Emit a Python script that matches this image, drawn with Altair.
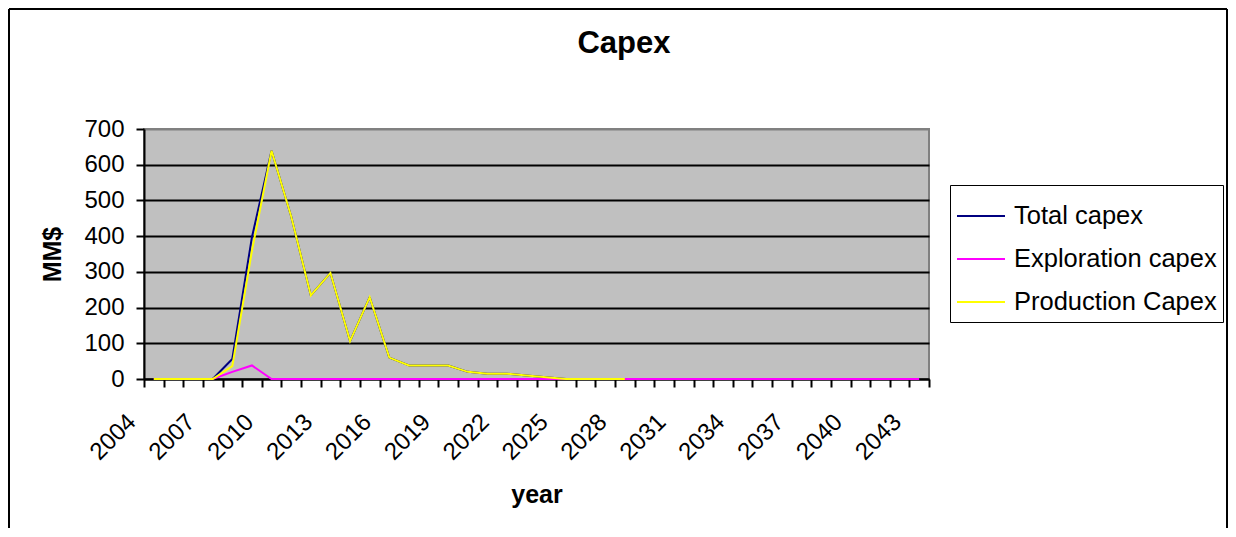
import altair as alt
import pandas as pd

years = list(range(2004, 2044))
production = [0, 0, 0, 0, 36, 359, 639, 455, 234, 297, 106, 229, 60, 38, 38, 38,
              20, 15, 15, 10, 5, 0, 0, 0, 0]
exploration = [0, 0, 0, 0, 20, 38] + [0] * 34
total = [(production[i] if i < len(production) else 0) + exploration[i] for i in range(len(years))]

series_names = ["Total capex", "Exploration capex", "Production Capex"]
series_colors = ["#000080", "#FF00FF", "#FFFF00"]
series_joins = ["bevel", "miter", "miter"]
chart_title = "Capex"

rows = []
for i, yr in enumerate(years):
    rows.append({"year": str(yr), "value": total[i], "series": series_names[0]})
for i, yr in enumerate(years):
    rows.append({"year": str(yr), "value": exploration[i], "series": series_names[1]})
for i, v in enumerate(production):
    rows.append({"year": str(years[i]), "value": v, "series": series_names[2]})
df = pd.DataFrame(rows)

FONT = "Liberation Sans"
PW, PH = 785, 250
TOTAL_W, TOTAL_H = 1220, 520
PAD_L, PAD_T = 136, 121

x_enc = alt.X(
    "year:O",
    sort=[str(y) for y in years],
    scale=alt.Scale(type="band", paddingInner=0, paddingOuter=0),
    axis=alt.Axis(
        title="year", titleFont=FONT, titleFontSize=25, titleFontWeight="bold",
        titleColor="black", titleX=PW / 2, titleY=123, titleBaseline="alphabetic",
        titleAlign="center",
        tickBand="extent", tickSize=8, tickWidth=2, tickColor="black",
        domainColor="black", domainWidth=2,
        labelAngle=-45, labelAlign="right", labelBaseline="middle",
        labelPadding=31, labelOffset=-22, labelFont=FONT, labelFontSize=24,
        labelColor="black", labelOverlap=False,
        labelExpr="(toNumber(datum.value) - 2004) % 3 == 0 ? datum.label : ''",
        grid=False,
    ),
)

y_enc = alt.Y(
    "value:Q",
    scale=alt.Scale(domain=[0, 700], nice=False),
    axis=alt.Axis(
        title="MM$", titleFont=FONT, titleFontSize=25, titleFontWeight="bold",
        titleColor="black", titleX=-92, titleY=PH / 2, titleAngle=270,
        titleAlign="center", titleBaseline="middle",
        values=[0, 100, 200, 300, 400, 500, 600, 700],
        tickSize=8, tickWidth=2, tickColor="black",
        domainColor="black", domainWidth=2,
        labelPadding=12, labelFont=FONT, labelFontSize=24, labelColor="black",
        grid=True, gridWidth=2,
        gridColor={"condition": {"test": "datum.value == 700", "value": "#808080"}, "value": "black"},
    ),
)

color_enc = alt.Color(
    "series:N",
    scale=alt.Scale(domain=series_names, range=series_colors),
    legend=alt.Legend(
        title=None, orient="none", legendX=806, legendY=56,
        symbolType="stroke", symbolSize=2304, symbolStrokeWidth=2,
        labelFont=FONT, labelFontSize=25.5, labelColor="black", labelLimit=500,
        labelOffset=8, padding=6, rowPadding=4,
        strokeColor="black", fillColor="white",
    ),
)

base = alt.Chart(df)
layers = []
for name, join in zip(series_names, series_joins):
    layers.append(
        base.transform_filter(alt.datum.series == name)
        .mark_line(strokeWidth=2, clip=False, strokeJoin=join)
        .encode(x=x_enc, y=y_enc, color=color_enc)
    )

fx_left = 1 - PAD_L
fx_right = TOTAL_W - 1 - PAD_L
fy_top = 1 - PAD_T
frame_df = pd.DataFrame({"k": [0]})
frame_left = alt.Chart(frame_df).mark_rule(color="black", strokeWidth=2).encode(
    x=alt.value(fx_left), y=alt.value(fy_top), y2=alt.value(TOTAL_H - PAD_T))
frame_top = alt.Chart(frame_df).mark_rule(color="black", strokeWidth=2).encode(
    x=alt.value(fx_left), x2=alt.value(fx_right), y=alt.value(fy_top))
frame_right = alt.Chart(frame_df).mark_rule(color="black", strokeWidth=2).encode(
    x=alt.value(fx_right), y=alt.value(fy_top), y2=alt.value(TOTAL_H - PAD_T))

title_mark = alt.Chart(frame_df).mark_text(
    text=chart_title, font=FONT, fontSize=31, fontWeight="bold", color="black",
    align="center", baseline="alphabetic",
).encode(x=alt.value(480), y=alt.value(-76))

chart = alt.layer(*layers, frame_left, frame_top, frame_right, title_mark).properties(
    width=PW, height=PH,
    autosize=alt.AutoSizeParams(type="none"),
    padding={"left": PAD_L, "top": PAD_T, "right": TOTAL_W - PAD_L - PW,
             "bottom": TOTAL_H - PAD_T - PH},
).configure(background="white").configure_view(
    stroke="#808080", strokeWidth=2, fill="#C0C0C0"
)

chart.save("out.html", embed_options={"renderer": "svg", "actions": False})
